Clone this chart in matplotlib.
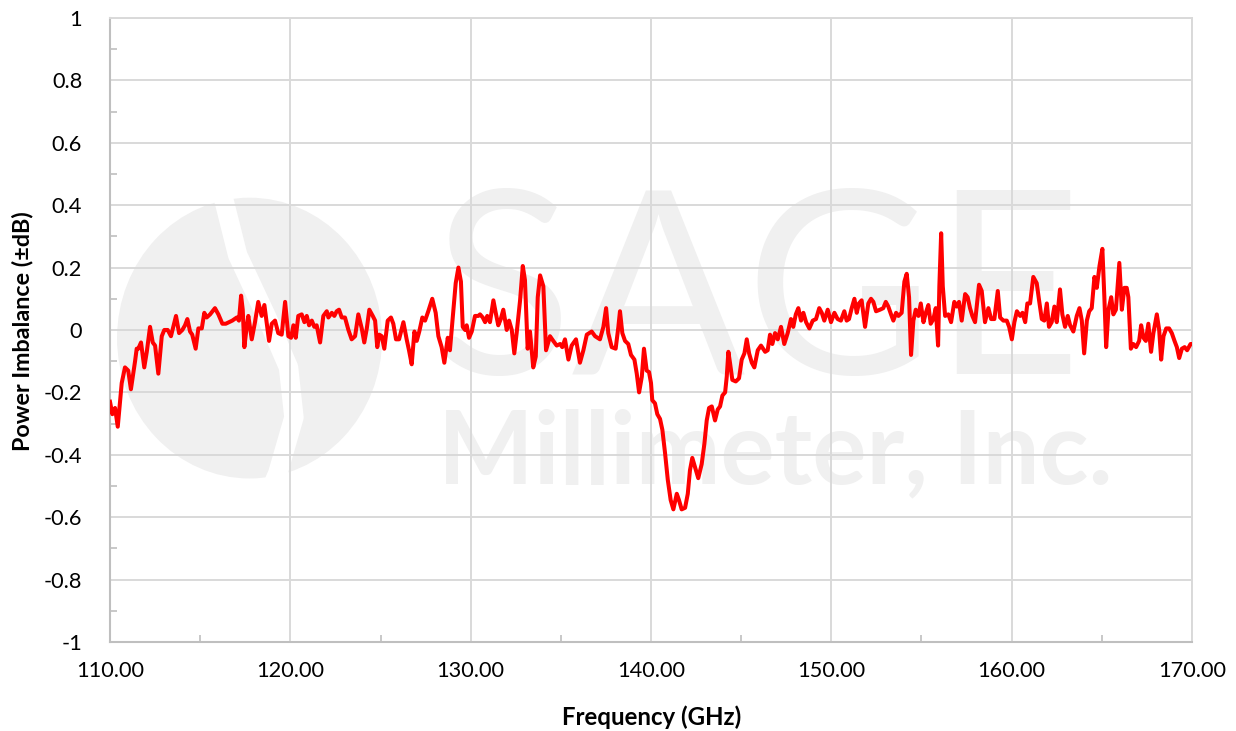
import matplotlib as mpl
mpl.use('Agg')
import matplotlib.pyplot as plt
from matplotlib.ticker import MultipleLocator
from matplotlib.patches import Ellipse

plt.rcParams['font.family'] = ['Lato', 'DejaVu Sans']

# frequency (GHz) and power imbalance (dB)
freq = [
    110.00, 110.13, 110.28, 110.43, 110.65, 110.83, 111.01, 111.16, 111.39, 111.48,
    111.57, 111.72, 111.90, 112.04, 112.22, 112.37, 112.50, 112.68, 112.87, 113.01,
    113.20, 113.38, 113.51, 113.66, 113.83, 114.01, 114.16, 114.29, 114.44, 114.56,
    114.75, 114.90, 115.09, 115.23, 115.36, 115.55, 115.82, 116.01, 116.23, 116.42,
    116.60, 116.78, 117.03, 117.15, 117.27, 117.36, 117.45, 117.58, 117.67, 117.86,
    118.04, 118.22, 118.41, 118.56, 118.82, 118.97, 119.15, 119.33, 119.52, 119.71,
    119.89, 120.04, 120.17, 120.30, 120.44, 120.63, 120.78, 120.91, 121.04, 121.19,
    121.33, 121.46, 121.65, 121.83, 122.02,
    122.11, 122.30, 122.44, 122.57, 122.70, 122.85, 123.03, 123.22, 123.40, 123.59,
    123.77, 123.96, 124.10, 124.24, 124.38, 124.57, 124.70, 124.82, 124.93, 125.07,
    125.21, 125.40, 125.58, 125.71, 125.86, 126.03, 126.27, 126.45, 126.58, 126.73,
    126.88, 127.01, 127.15, 127.32, 127.47, 127.65, 127.87, 128.06, 128.21, 128.39,
    128.54, 128.73, 128.85, 129.04, 129.17, 129.32, 129.46, 129.56, 129.69, 129.78,
    129.91, 130.06, 130.24, 130.42, 130.52, 130.67, 130.80, 130.92, 131.07, 131.26,
    131.39, 131.53, 131.67, 131.81, 132.00, 132.13, 132.28, 132.42, 132.55, 132.74,
    132.89, 133.01, 133.16, 133.29, 133.47, 133.61, 133.72, 133.85, 134.03, 134.18,
    134.40, 134.58, 134.77, 134.96, 135.08, 135.23, 135.42, 135.60, 135.84, 136.06,
    136.25, 136.44, 136.71, 136.90, 137.17, 137.36, 137.51, 137.63, 137.82, 138.04,
    138.19, 138.28, 138.41, 138.56, 138.74, 138.89, 139.08, 139.21, 139.34, 139.49,
    139.61, 139.76, 139.89, 140.00, 140.07, 140.22, 140.35, 140.50, 140.63, 140.78,
    140.93, 141.09, 141.24, 141.43, 141.55, 141.70, 141.89, 142.04, 142.16, 142.29,
    142.44, 142.62, 142.81, 142.96, 143.09, 143.22, 143.37, 143.55, 143.70, 143.83,
    143.96, 144.11, 144.20, 144.29, 144.38, 144.51, 144.70, 144.88, 145.03, 145.18,
    145.31, 145.44, 145.59, 145.73, 145.92, 146.10, 146.33, 146.47, 146.60,
    146.73, 146.88, 147.03, 147.21, 147.39, 147.58, 147.76, 147.89, 148.03, 148.17,
    148.32, 148.45, 148.60, 148.78, 148.97, 149.15, 149.33, 149.47, 149.61, 149.80,
    149.98, 150.17, 150.35, 150.53, 150.72, 150.85, 150.98, 151.13, 151.28, 151.41,
    151.53, 151.68, 151.87, 152.05, 152.20, 152.33, 152.48, 152.70, 152.88, 153.02,
    153.16, 153.31, 153.44, 153.59, 153.72, 153.90, 154.05, 154.18, 154.31, 154.42,
    154.55, 154.68, 154.83, 154.96, 155.11, 155.24, 155.38, 155.51, 155.66, 155.79,
    155.92, 155.99, 156.09, 156.18, 156.31, 156.49, 156.64, 156.82, 156.96, 157.08,
    157.23, 157.42, 157.56, 157.69, 157.82, 157.97, 158.19, 158.34, 158.52, 158.71,
    158.86, 159.04, 159.23, 159.36, 159.54, 159.73, 159.86, 160.01, 160.15, 160.29,
    160.47, 160.60, 160.75, 160.87, 161.02, 161.20, 161.39, 161.52, 161.67, 161.81,
    161.95, 162.07, 162.22, 162.37, 162.50, 162.68, 162.81, 162.96, 163.11, 163.24,
    163.42, 163.61, 163.76, 163.89, 164.02, 164.17, 164.30, 164.44, 164.59, 164.72,
    164.87, 165.03, 165.14, 165.24, 165.37, 165.52, 165.64, 165.78, 165.97, 166.11,
    166.25, 166.38, 166.47, 166.61, 166.75, 166.90, 167.07, 167.18, 167.31, 167.44,
    167.58, 167.73, 167.86, 168.05, 168.18, 168.29, 168.42, 168.57, 168.73, 168.88,
    169.03, 169.16, 169.29, 169.44, 169.59, 169.73, 169.92, 170.00,
]

imbalance = [
    -0.23, -0.27, -0.25, -0.31, -0.17, -0.12, -0.13, -0.19, -0.10, -0.06,
    -0.06, -0.04, -0.12, -0.07, 0.01, -0.04, -0.05, -0.14, -0.02, 0.00,
    0.00, -0.02, 0.01, 0.045, -0.01, 0.00, 0.015, 0.035, -0.005, -0.015,
    -0.06, 0.005, 0.005, 0.055, 0.04, 0.05, 0.07, 0.05, 0.02, 0.02,
    0.025, 0.03, 0.04, 0.03, 0.11, 0.065, -0.055, 0.01, 0.045, -0.03,
    0.025, 0.09, 0.045, 0.08, -0.035, 0.02, 0.03, -0.01, -0.015, 0.09,
    -0.02, -0.025, 0.015, -0.025, 0.045, 0.05, 0.025, 0.045, 0.015, 0.03,
    0.01, 0.015, -0.04, 0.045, 0.06,
    0.04, 0.055, 0.045, 0.06, 0.065, 0.04, 0.04, 0.00, -0.03, -0.02,
    0.05, 0.005, -0.04, 0.005, 0.065, 0.045, 0.03, -0.055, -0.015, -0.02,
    -0.06, 0.03, 0.04, 0.02, -0.03, -0.03, 0.025, -0.03, -0.065, -0.11,
    -0.005, -0.035, -0.005, 0.04, 0.03, 0.06, 0.10, 0.055, -0.02, -0.055,
    -0.105, -0.025, -0.065, 0.065, 0.15, 0.20, 0.155, 0.01, 0.00, 0.015,
    -0.025, -0.005, 0.045, 0.045, 0.05, 0.04, 0.025, 0.045, 0.025, 0.095,
    0.055, 0.015, 0.035, 0.065, 0.00, 0.03, 0.00, -0.075, -0.01, 0.095,
    0.205, 0.16, -0.06, -0.005, -0.12, -0.085, 0.105, 0.175, 0.14, -0.065,
    -0.02, -0.035, -0.05, -0.045, -0.055, -0.03, -0.095, -0.05, -0.03, -0.105,
    -0.065, -0.015, -0.005, -0.02, -0.03, 0.01, 0.07, -0.01, -0.055, -0.06,
    0.01, 0.06, -0.01, -0.035, -0.045, -0.08, -0.095, -0.14, -0.20, -0.15,
    -0.06, -0.13, -0.135, -0.17, -0.225, -0.235, -0.27, -0.285, -0.32, -0.395,
    -0.48, -0.545, -0.575, -0.525, -0.545, -0.575, -0.57, -0.525, -0.45, -0.41,
    -0.44, -0.475, -0.43, -0.365, -0.29, -0.25, -0.245, -0.29, -0.255, -0.245,
    -0.21, -0.20, -0.15, -0.07, -0.105, -0.16, -0.165, -0.155, -0.095, -0.075,
    -0.03, -0.075, -0.105, -0.12, -0.065, -0.05, -0.07, -0.065, -0.015,
    -0.045, -0.01, -0.03, 0.01, -0.045, -0.01, 0.035, 0.01, 0.05, 0.07,
    0.03, 0.055, 0.025, 0.005, 0.03, 0.035, 0.07, 0.055, 0.03, 0.065,
    0.025, 0.055, 0.035, 0.03, 0.06, 0.03, 0.035, 0.07, 0.10, 0.055,
    0.085, 0.095, 0.01, 0.085, 0.10, 0.09, 0.06, 0.065, 0.07, 0.09,
    0.075, 0.05, 0.03, 0.055, 0.045, 0.055, 0.155, 0.18, 0.105, -0.08,
    0.03, 0.065, 0.045, 0.085, 0.025, 0.055, 0.08, 0.02, 0.035, 0.07,
    -0.05, 0.14, 0.31, 0.14, 0.045, 0.05, 0.025, 0.09, 0.075, 0.09,
    0.03, 0.115, 0.105, 0.07, 0.045, 0.025, 0.145, 0.125, 0.025, 0.07,
    0.035, 0.035, 0.125, 0.04, 0.03, 0.03, 0.01, -0.03, 0.025, 0.06,
    0.045, 0.055, 0.025, 0.085, 0.085, 0.17, 0.15, 0.095, 0.035, 0.03,
    0.085, 0.01, 0.025, 0.075, 0.025, 0.13, 0.05, 0.01, 0.045, 0.015,
    -0.005, 0.045, 0.07, 0.03, -0.075, 0.03, 0.06, 0.07, 0.17, 0.135,
    0.205, 0.26, 0.105, -0.055, 0.065, 0.105, 0.05, 0.065, 0.215, 0.065,
    0.135, 0.135, 0.105, -0.06, -0.045, -0.055, -0.035, 0.015, -0.025, -0.035,
    0.02, -0.07, -0.01, 0.05, 0.00, -0.095, -0.02, 0.005, 0.005, -0.01,
    -0.035, -0.055, -0.09, -0.06, -0.055, -0.065, -0.045, -0.045,
]

x_ticks = [110, 120, 130, 140, 150, 160, 170]
x_labels = ['110.00', '120.00', '130.00', '140.00', '150.00', '160.00', '170.00']
y_ticks = [-1, -0.8, -0.6, -0.4, -0.2, 0, 0.2, 0.4, 0.6, 0.8, 1]
y_labels = ['-1', '-0.8', '-0.6', '-0.4', '-0.2', '0', '0.2', '0.4', '0.6', '0.8', '1']

fig = plt.figure(figsize=(12.36, 7.31), dpi=100)
ax = fig.add_axes([0.089, 0.1218, 0.8754, 0.8536])

# faint company watermark behind the plot
wm = '#f0f0f0'
ax.add_patch(Ellipse((0.129, 0.487), 0.245, 0.45, transform=ax.transAxes,
                     color=wm, zorder=0.1, lw=0))
ax.plot([0.105, 0.118, 0.145, 0.165, 0.17, 0.155, 0.14],
        [0.71, 0.62, 0.52, 0.44, 0.36, 0.27, 0.21],
        transform=ax.transAxes, color='white', lw=14, zorder=0.15,
        solid_capstyle='round')
ax.text(0.598, 0.545, 'SAGE', transform=ax.transAxes, ha='center', va='center',
        fontsize=185, color=wm, zorder=0.2)
ax.text(0.615, 0.30, 'Millimeter, Inc.', transform=ax.transAxes, ha='center',
        va='center', fontsize=73, fontweight='bold', color=wm, zorder=0.2)

ax.plot(freq, imbalance, color='#ff0000', lw=2.9, zorder=3,
        solid_joinstyle='round')

ax.set_xlim(110, 170)
ax.set_ylim(-1, 1)
ax.set_xticks(x_ticks)
ax.set_xticklabels(x_labels)
ax.set_yticks(y_ticks)
ax.set_yticklabels(y_labels)
ax.xaxis.set_minor_locator(MultipleLocator(5))
ax.yaxis.set_minor_locator(MultipleLocator(0.1))

ax.set_axisbelow(True)
ax.grid(True, which='major', color='#d9d9d9', lw=1.4)
ax.tick_params(which='major', length=0, labelsize=15.7, colors='#000000')
ax.tick_params(axis='y', which='major', pad=20)
ax.tick_params(axis='x', which='major', pad=14)
ax.tick_params(which='minor', direction='in', length=5, width=1.2,
               color='#bfbfbf')
for side in ['top', 'right']:
    ax.spines[side].set_color('#d9d9d9')
    ax.spines[side].set_linewidth(1.4)
for side in ['left', 'bottom']:
    ax.spines[side].set_color('#bfbfbf')
    ax.spines[side].set_linewidth(1.5)

fig.text(0.018, 0.5475, 'Power Imbalance (±dB)', rotation=90, ha='center',
         va='center', fontsize=16.8, fontweight='bold')
fig.text(0.527, 0.019, 'Frequency (GHz)', ha='center', va='center',
         fontsize=17.3, fontweight='bold')

fig.savefig('out.png', dpi=100)
